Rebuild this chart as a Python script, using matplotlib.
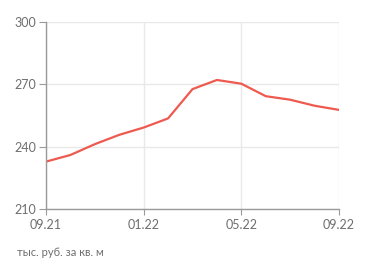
import matplotlib
matplotlib.use("Agg")
import matplotlib.pyplot as plt

# monthly values, 09.21 .. 09.22
months = ["09.21", "10.21", "11.21", "12.21", "01.22", "02.22", "03.22",
          "04.22", "05.22", "06.22", "07.22", "08.22", "09.22"]
price = [232.8, 236.0, 241.2, 245.7, 249.2, 253.6, 267.7,
         272.1, 270.3, 264.3, 262.6, 259.7, 257.7]
xtick_labels = ["09.21", "01.22", "05.22", "09.22"]
yticks = [210, 240, 270, 300]

plt.rcParams['font.family'] = ['Lato', 'DejaVu Sans']

fig = plt.figure(figsize=(3.71, 2.74), dpi=100)
ax = fig.add_axes([46 / 371, 1 - 209 / 274, 293 / 371, 187 / 274])

x = list(range(len(months)))
ax.plot(x, price, color='#ee5a4f', linewidth=1.6, solid_joinstyle='round')

ax.set_xlim(0, len(months) - 1)
ax.set_ylim(210, 300)
xt = [months.index(m) for m in xtick_labels]
ax.set_xticks(xt)
ax.set_xticklabels(xtick_labels)
ax.set_yticks(yticks)

ax.grid(True, color='#e9e9e9', linewidth=1)
ax.set_axisbelow(True)
for s in ['top', 'right']:
    ax.spines[s].set_visible(False)
for s in ['left', 'bottom']:
    ax.spines[s].set_color('#9a9a9a')
    ax.spines[s].set_linewidth(1)
ax.tick_params(axis='both', colors='#9a9a9a', labelcolor='#6e6e6e', labelsize=9)
ax.tick_params(axis='y', length=5, pad=2)
ax.tick_params(axis='x', length=4, pad=3)

fig.text(17 / 371, 1 - 253 / 274, "тыс. руб. за кв. м", fontsize=8,
         color='#6e6e6e', va='center', ha='left')

fig.savefig("out.png", dpi=100)
